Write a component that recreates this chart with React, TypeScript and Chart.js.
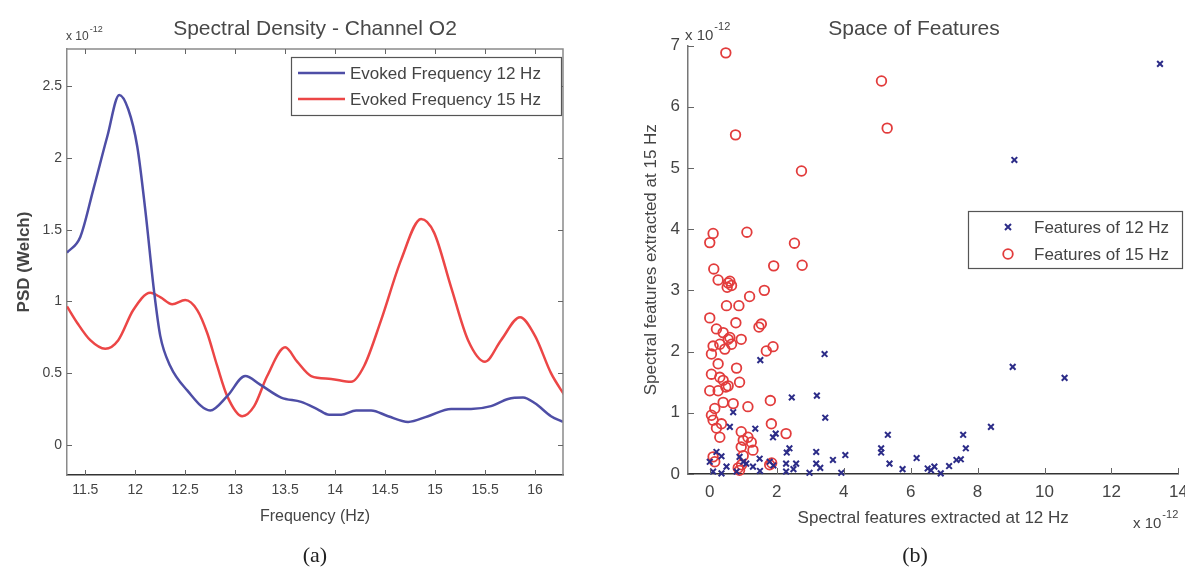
import React, { useEffect, useRef } from "react";
import { Chart, registerables } from "chart.js";

Chart.register(...registerables);

// ---------- Data (values in units of 1e-12) ----------
const freq12 = [11.317, 11.45, 11.58, 11.72, 11.84, 11.93, 12.02, 12.1, 12.19, 12.25, 12.35, 12.52, 12.75, 12.92, 13.1, 13.25, 13.46, 13.66, 13.82, 13.94, 14.06, 14.21, 14.36, 14.53, 14.73, 14.93, 15.16, 15.36, 15.56, 15.73, 15.88, 16.0, 16.16, 16.28];
const psd12 = [1.34, 1.45, 1.78, 2.15, 2.44, 2.34, 2.08, 1.64, 1.06, 0.76, 0.55, 0.38, 0.24, 0.34, 0.48, 0.42, 0.33, 0.3, 0.25, 0.21, 0.21, 0.24, 0.24, 0.2, 0.16, 0.2, 0.25, 0.25, 0.27, 0.32, 0.33, 0.29, 0.2, 0.16];

const freq15 = [11.317, 11.42, 11.55, 11.7, 11.83, 11.98, 12.15, 12.25, 12.37, 12.5, 12.62, 12.72, 12.82, 12.92, 13.07, 13.19, 13.32, 13.5, 13.62, 13.76, 13.96, 14.16, 14.29, 14.46, 14.66, 14.86, 14.99, 15.16, 15.33, 15.5, 15.66, 15.85, 16.0, 16.16, 16.3];
const psd15 = [0.965, 0.85, 0.73, 0.67, 0.73, 0.94, 1.06, 1.03, 0.98, 1.01, 0.94, 0.78, 0.55, 0.34, 0.2, 0.27, 0.48, 0.68, 0.58, 0.48, 0.46, 0.44, 0.55, 0.87, 1.29, 1.575, 1.48, 1.1, 0.73, 0.58, 0.73, 0.89, 0.76, 0.5, 0.34];

const feat12X = [13.45, 9.1, 9.05, 10.6, 8.4, 5.32, 5.12, 5.12, 5.37, 5.76, 6.18, 6.51, 6.71, 6.61, 6.9, 7.15, 7.37, 7.5, 7.57, 7.65, 3.43, 1.51, 2.45, 3.2, 3.45, 0.7, 0.6, 1.36, 1.89, 1.97, 0.2, 0.35, 2.38, 3.18, 4.05, 3.68, 3.18, 2.58, 0.0, 0.89, 1.09, 1.29, 1.49, 2.28, 0.1, 0.35, 0.8, 2.28, 2.98, 3.93, 1.79, 2.3, 1.0, 0.5, 1.9, 2.5, 3.3, 1.5];
const feat12Y = [6.7, 5.13, 1.75, 1.57, 0.77, 0.64, 0.42, 0.35, 0.17, 0.08, 0.26, 0.09, 0.12, 0.06, 0.01, 0.13, 0.23, 0.24, 0.64, 0.42, 1.96, 1.86, 1.25, 1.28, 0.92, 1.01, 0.77, 0.74, 0.6, 0.66, 0.36, 0.29, 0.42, 0.36, 0.31, 0.23, 0.17, 0.17, 0.2, 0.28, 0.17, 0.12, 0.25, 0.17, 0.04, 0.01, 0.04, 0.04, 0.02, 0.02, 0.2, 0.35, 0.2, 0.12, 0.14, 0.08, 0.1, 0.05];

const feat15X = [0.48, 0.77, 5.13, 5.3, 2.74, 0.1, 0.0, 1.11, 2.53, 2.76, 1.91, 0.12, 0.25, 0.55, 0.52, 0.6, 0.65, 1.19, 1.63, 0.5, 0.87, 0.0, 0.2, 0.78, 1.54, 1.47, 0.4, 0.6, 0.94, 0.1, 0.3, 0.55, 0.65, 0.45, 0.05, 1.69, 1.89, 0.25, 0.8, 0.05, 0.3, 0.4, 0.55, 0.89, 0.0, 0.25, 0.48, 1.81, 0.4, 0.15, 0.7, 1.14, 0.05, 0.1, 0.35, 1.84, 0.3, 0.94, 1.14, 1.0, 1.24, 2.28, 0.94, 1.29, 0.1, 0.89, 1.79, 0.2, 0.95, 1.0, 0.15, 1.85, 0.85];
const feat15Y = [6.88, 5.54, 6.42, 5.65, 4.95, 3.93, 3.78, 3.95, 3.77, 3.41, 3.4, 3.35, 3.17, 3.12, 3.05, 3.15, 3.08, 2.9, 3.0, 2.75, 2.75, 2.55, 2.37, 2.47, 2.45, 2.4, 2.31, 2.23, 2.2, 2.09, 2.12, 2.2, 2.12, 2.04, 1.96, 2.01, 2.08, 1.8, 1.73, 1.63, 1.58, 1.53, 1.44, 1.5, 1.36, 1.36, 1.42, 1.2, 1.17, 1.07, 1.15, 1.1, 0.96, 0.88, 0.82, 0.82, 0.6, 0.69, 0.6, 0.55, 0.52, 0.66, 0.44, 0.39, 0.28, 0.06, 0.15, 0.75, 0.15, 0.3, 0.2, 0.18, 0.1];

const psdXTicks = [11.5, 12, 12.5, 13, 13.5, 14, 14.5, 15, 15.5, 16];
const psdYTicks = [0, 0.5, 1, 1.5, 2, 2.5];
const featXTicks = [0, 2, 4, 6, 8, 10, 12, 14];
const featYTicks = [0, 1, 2, 3, 4, 5, 6, 7];

const FONT = "'Liberation Sans', Arial, sans-serif";
const BLUE_LINE = "#4e4ea6";
const RED_LINE = "#ec4646";
const BLUE_MARK = "#2c2c88";
const RED_MARK = "#e23c3c";

function drawInwardTicks(chart: any, len: number, sides: { top: boolean; right: boolean }, color: string) {
  const { ctx, chartArea } = chart;
  const xs = chart.scales.x;
  const ys = chart.scales.y;
  ctx.save();
  ctx.strokeStyle = color;
  ctx.lineWidth = 1;
  ctx.beginPath();
  xs.ticks.forEach((t: any) => {
    const px = Math.round(xs.getPixelForValue(t.value)) + 0.5;
    ctx.moveTo(px, chartArea.bottom);
    ctx.lineTo(px, chartArea.bottom - len);
    if (sides.top) {
      ctx.moveTo(px, chartArea.top);
      ctx.lineTo(px, chartArea.top + len);
    }
  });
  ys.ticks.forEach((t: any) => {
    const py = Math.round(ys.getPixelForValue(t.value)) + 0.5;
    ctx.moveTo(chartArea.left, py);
    ctx.lineTo(chartArea.left + len, py);
    if (sides.right) {
      ctx.moveTo(chartArea.right, py);
      ctx.lineTo(chartArea.right - len, py);
    }
  });
  ctx.stroke();
  ctx.restore();
}

function drawExponent(ctx: CanvasRenderingContext2D, x: number, y: number, size: number, supSize: number) {
  ctx.save();
  ctx.fillStyle = "#444";
  ctx.textBaseline = "middle";
  ctx.textAlign = "left";
  ctx.font = `${size}px ${FONT}`;
  ctx.fillText("x 10", x, y);
  const w = ctx.measureText("x 10").width;
  ctx.font = `${supSize}px ${FONT}`;
  ctx.fillText("-12", x + w + 1, y - size * 0.6);
  ctx.restore();
}

const leftPlugin = {
  id: "leftDecor",
  afterDatasetsDraw(chart: any) {
    const { ctx, chartArea } = chart;
    ctx.save();
    ctx.strokeStyle = "#8a8a8a";
    ctx.lineWidth = 1.5;
    ctx.beginPath();
    ctx.moveTo(chartArea.left, chartArea.top);
    ctx.lineTo(chartArea.right, chartArea.top);
    ctx.lineTo(chartArea.right, chartArea.bottom);
    ctx.stroke();
    ctx.restore();
    drawInwardTicks(chart, 5, { top: true, right: true }, "#666");

    ctx.save();
    ctx.fillStyle = "#484848";
    ctx.font = `21px ${FONT}`;
    ctx.textAlign = "center";
    ctx.textBaseline = "middle";
    ctx.fillText("Spectral Density - Channel O2", 315, 29);
    ctx.restore();

    drawExponent(ctx, 66, 37, 12, 9);

    ctx.save();
    ctx.fillStyle = "#fff";
    ctx.fillRect(291.5, 57.5, 270, 58);
    ctx.strokeStyle = "#555";
    ctx.lineWidth = 1.2;
    ctx.strokeRect(291.5, 57.5, 270, 58);
    const rows = [
      { label: chart.data.datasets[0].label, color: BLUE_LINE, y: 73 },
      { label: chart.data.datasets[1].label, color: RED_LINE, y: 99 },
    ];
    rows.forEach((r) => {
      ctx.strokeStyle = r.color;
      ctx.lineWidth = 2.5;
      ctx.beginPath();
      ctx.moveTo(298, r.y);
      ctx.lineTo(345, r.y);
      ctx.stroke();
      ctx.fillStyle = "#444";
      ctx.font = `17px ${FONT}`;
      ctx.textAlign = "left";
      ctx.textBaseline = "middle";
      ctx.fillText(r.label, 350, r.y + 1);
    });
    ctx.restore();
  },
};

const rightPlugin = {
  id: "rightDecor",
  afterDatasetsDraw(chart: any) {
    const { ctx } = chart;
    drawInwardTicks(chart, 6, { top: false, right: false }, "#666");

    ctx.save();
    ctx.fillStyle = "#484848";
    ctx.font = `21px ${FONT}`;
    ctx.textAlign = "center";
    ctx.textBaseline = "middle";
    ctx.fillText("Space of Features", 314, 29);
    ctx.restore();

    drawExponent(ctx, 85, 36, 15, 11);
    drawExponent(ctx, 533, 524, 15, 11);

    ctx.save();
    ctx.fillStyle = "#fff";
    ctx.fillRect(368.5, 211.5, 214, 57);
    ctx.strokeStyle = "#555";
    ctx.lineWidth = 1.2;
    ctx.strokeRect(368.5, 211.5, 214, 57);
    const cx = 408, cy1 = 227, cy2 = 254;
    ctx.strokeStyle = BLUE_MARK;
    ctx.lineWidth = 2;
    ctx.beginPath();
    ctx.moveTo(cx - 3, cy1 - 3);
    ctx.lineTo(cx + 3, cy1 + 3);
    ctx.moveTo(cx + 3, cy1 - 3);
    ctx.lineTo(cx - 3, cy1 + 3);
    ctx.stroke();
    ctx.strokeStyle = RED_MARK;
    ctx.lineWidth = 1.8;
    ctx.beginPath();
    ctx.arc(cx, cy2, 4.8, 0, Math.PI * 2);
    ctx.stroke();
    ctx.fillStyle = "#444";
    ctx.font = `17px ${FONT}`;
    ctx.textAlign = "left";
    ctx.textBaseline = "middle";
    ctx.fillText(chart.data.datasets[0].label, 434, cy1 + 1);
    ctx.fillText(chart.data.datasets[1].label, 434, cy2 + 1);
    ctx.restore();
  },
};

function fixedTicks(values: number[]) {
  return (scale: any) => {
    scale.ticks = values.map((v) => ({ value: v }));
  };
}

function fitX(h: number) {
  return (s: any) => {
    s.height = h;
    s.paddingLeft = 0;
    s.paddingRight = 0;
  };
}

function fitY(w: number) {
  return (s: any) => {
    s.width = w;
    s.paddingTop = 0;
    s.paddingBottom = 0;
  };
}

function LeftChart() {
  const ref = useRef<HTMLCanvasElement>(null);
  useEffect(() => {
    if (!ref.current) return;
    const chart = new Chart(ref.current, {
      type: "scatter",
      data: {
        datasets: [
          {
            label: "Evoked Frequency 12 Hz",
            data: freq12.map((f, i) => ({ x: f, y: psd12[i] })),
            showLine: true,
            borderColor: BLUE_LINE,
            borderWidth: 2.5,
            pointRadius: 0,
            cubicInterpolationMode: "monotone",
          },
          {
            label: "Evoked Frequency 15 Hz",
            data: freq15.map((f, i) => ({ x: f, y: psd15[i] })),
            showLine: true,
            borderColor: RED_LINE,
            borderWidth: 2.5,
            pointRadius: 0,
            cubicInterpolationMode: "monotone",
          },
        ],
      },
      options: {
        animation: false,
        responsive: false,
        devicePixelRatio: 1,
        layout: { padding: { left: 0, top: 49, right: 37, bottom: 46 } },
        plugins: { legend: { display: false }, tooltip: { enabled: false }, title: { display: false } },
        scales: {
          x: {
            type: "linear",
            min: 11.317,
            max: 16.28,
            afterBuildTicks: fixedTicks(psdXTicks),
            afterFit: fitX(55),
            grid: { display: false, drawTicks: false },
            border: { display: true, color: "#333", width: 1.5 },
            ticks: {
              padding: 7,
              color: "#444",
              font: { family: FONT, size: 14 },
              maxRotation: 0,
              autoSkip: false,
              callback: (v: any) => String(v),
            },
            title: {
              display: true,
              text: "Frequency (Hz)",
              color: "#444",
              font: { family: FONT, size: 16 },
              padding: { top: 0, bottom: 4 },
            },
          },
          y: {
            type: "linear",
            min: -0.21,
            max: 2.76,
            afterBuildTicks: fixedTicks(psdYTicks),
            afterFit: fitY(67),
            grid: { display: false, drawTicks: false },
            border: { display: true, color: "#8a8a8a", width: 1.5 },
            ticks: {
              padding: 5,
              color: "#444",
              font: { family: FONT, size: 14 },
              autoSkip: false,
              callback: (v: any) => String(v),
            },
            title: {
              display: true,
              text: "PSD (Welch)",
              color: "#444",
              font: { family: FONT, size: 17, weight: "bold" },
              padding: { top: 14, bottom: 0 },
            },
          },
        },
      },
      plugins: [leftPlugin],
    } as any);
    return () => chart.destroy();
  }, []);
  return <canvas ref={ref} width={600} height={576} style={{ position: "absolute", left: 0, top: 0 }} />;
}

function RightChart() {
  const ref = useRef<HTMLCanvasElement>(null);
  useEffect(() => {
    if (!ref.current) return;
    const chart = new Chart(ref.current, {
      type: "scatter",
      data: {
        datasets: [
          {
            label: "Features of 12 Hz",
            data: feat12X.map((x, i) => ({ x, y: feat12Y[i] })),
            pointStyle: "crossRot",
            pointRadius: 4,
            borderColor: BLUE_MARK,
            backgroundColor: BLUE_MARK,
            pointBorderWidth: 2,
            clip: false,
          },
          {
            label: "Features of 15 Hz",
            data: feat15X.map((x, i) => ({ x, y: feat15Y[i] })),
            pointStyle: "circle",
            pointRadius: 4.8,
            borderColor: RED_MARK,
            backgroundColor: "rgba(255,255,255,0)",
            pointBorderWidth: 1.8,
            clip: false,
          },
        ],
      },
      options: {
        animation: false,
        responsive: false,
        devicePixelRatio: 1,
        layout: { padding: { left: 0, top: 45.5, right: 5, bottom: 42 } },
        plugins: { legend: { display: false }, tooltip: { enabled: false }, title: { display: false } },
        scales: {
          x: {
            type: "linear",
            min: -0.65,
            max: 14,
            afterBuildTicks: fixedTicks(featXTicks),
            afterFit: fitX(60),
            grid: { display: false, drawTicks: false },
            border: { display: true, color: "#333", width: 1.5 },
            ticks: {
              padding: 8,
              color: "#444",
              font: { family: FONT, size: 17 },
              maxRotation: 0,
              autoSkip: false,
              callback: (v: any) => String(v),
            },
            title: {
              display: true,
              text: "Spectral features extracted at 12 Hz",
              color: "#444",
              font: { family: FONT, size: 17 },
              padding: { top: 0, bottom: 5 },
            },
          },
          y: {
            type: "linear",
            min: 0,
            max: 7,
            afterBuildTicks: fixedTicks(featYTicks),
            afterFit: fitY(88),
            grid: { display: false, drawTicks: false },
            border: { display: true, color: "#777", width: 1.5 },
            ticks: {
              padding: 8,
              color: "#444",
              font: { family: FONT, size: 17 },
              autoSkip: false,
              callback: (v: any) => String(v),
            },
            title: {
              display: true,
              text: "Spectral features extracted at 15 Hz",
              color: "#444",
              font: { family: FONT, size: 17 },
              padding: { top: 41, bottom: 0 },
            },
          },
        },
      },
      plugins: [rightPlugin],
    } as any);
    return () => chart.destroy();
  }, []);
  return <canvas ref={ref} width={585} height={576} style={{ position: "absolute", left: 600, top: 0 }} />;
}

const captionStyle: React.CSSProperties = {
  position: "absolute",
  top: 542,
  width: 60,
  textAlign: "center",
  fontFamily: "'Liberation Serif', 'DejaVu Serif', serif",
  fontSize: 22,
  color: "#222",
  lineHeight: "26px",
};

export default function App() {
  return (
    <div style={{ position: "absolute", left: 0, top: 0, width: 1185, height: 576, background: "#fff", overflow: "hidden" }}>
      <LeftChart />
      <RightChart />
      <div style={{ ...captionStyle, left: 285 }}>(a)</div>
      <div style={{ ...captionStyle, left: 885 }}>(b)</div>
    </div>
  );
}
